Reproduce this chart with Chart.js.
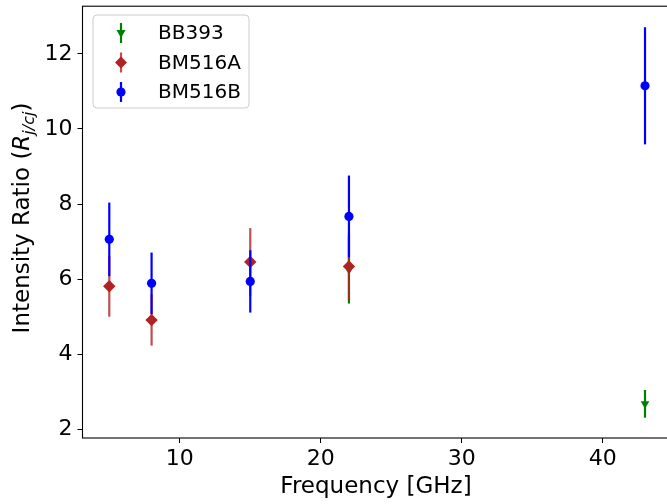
<!DOCTYPE html>
<html>
<head>
<meta charset="utf-8">
<script src="https://cdn.jsdelivr.net/npm/chart.js@4/dist/chart.umd.min.js"></script>
<style>
html, body { margin: 0; padding: 0; background: #fff; overflow: hidden; }
#wrap { width: 667px; height: 504px; overflow: hidden; }
</style>
</head>
<body>
<div id="wrap"><canvas id="chart" width="678" height="504"></canvas></div>
<script>
// values
const seriesNames = ['BB393', 'BM516A', 'BM516B'];
const bbFreq = [22, 43];
const bbRatio = [6.25, 2.68];
const bbErr = [0.9, 0.37];
const aFreq = [5, 8, 15, 22];
const aRatio = [5.81, 4.91, 6.46, 6.34];
const aErr = [0.81, 0.68, 0.9, 0.9];
const bFreq = [5, 8, 15, 22, 43];
const bRatio = [7.06, 5.89, 5.94, 7.67, 11.15];
const bErr = [0.98, 0.82, 0.83, 1.09, 1.56];
const xTicks = [10, 20, 30, 40];
const yTicks = [2, 4, 6, 8, 10, 12];

const FONT = '"DejaVu Sans", sans-serif';

const toPoints = (xs, ys) => xs.map((x, i) => ({ x: x, y: ys[i] }));

// no extra room for edge labels, the plot box is fixed
function noPadding(s) {
    s.paddingTop = 0; s.paddingBottom = 0; s.paddingLeft = 0; s.paddingRight = 0;
}

// error bars go under each series' own markers, like matplotlib
const errorBars = {
    id: 'errorBars',
    beforeDatasetDraw(chart, args) {
        const ds = chart.data.datasets[args.index];
        const yScale = chart.scales.y;
        const ctx = chart.ctx;
        ctx.save();
        ctx.strokeStyle = ds.errColor;
        ctx.lineWidth = 2.2;
        args.meta.data.forEach((pt, i) => {
            const v = ds.data[i].y, e = ds.errors[i];
            ctx.beginPath();
            ctx.moveTo(pt.x, yScale.getPixelForValue(v + e));
            ctx.lineTo(pt.x, yScale.getPixelForValue(v - e));
            ctx.stroke();
        });
        ctx.restore();
    }
};

function drawMarker(ctx, style, color, x, y) {
    ctx.fillStyle = color;
    ctx.beginPath();
    if (style === 'circle') {
        ctx.arc(x, y, 4.6, 0, Math.PI * 2);
    } else if (style === 'rectRot') {
        ctx.moveTo(x - 6, y); ctx.lineTo(x, y - 6); ctx.lineTo(x + 6, y); ctx.lineTo(x, y + 6);
    } else {
        ctx.moveTo(x - 4.5, y - 3); ctx.lineTo(x + 4.5, y - 3); ctx.lineTo(x, y + 5);
    }
    ctx.closePath();
    ctx.fill();
}

const decorations = {
    id: 'decorations',
    afterDraw(chart) {
        const ctx = chart.ctx;
        const a = chart.chartArea;
        ctx.save();
        // frame
        ctx.strokeStyle = '#000';
        ctx.lineWidth = 1.1;
        ctx.strokeRect(a.left, a.top, a.right - a.left, a.bottom - a.top);

        // axis titles
        ctx.fillStyle = '#000';
        ctx.font = '23px ' + FONT;
        ctx.textAlign = 'center';
        ctx.textBaseline = 'middle';
        ctx.fillText('Frequency [GHz]', 376, 487);

        ctx.save();
        ctx.translate(21, 218);
        ctx.rotate(-Math.PI / 2);
        ctx.textAlign = 'left';
        ctx.textBaseline = 'alphabetic';
        const parts = [
            { t: 'Intensity Ratio (', f: '23px ' + FONT, dy: 0 },
            { t: 'R', f: 'italic 23px ' + FONT, dy: 0 },
            { t: 'j/cj', f: 'italic 16px ' + FONT, dy: 5 },
            { t: ')', f: '23px ' + FONT, dy: 0 }
        ];
        let total = 0;
        parts.forEach(p => { ctx.font = p.f; p.w = ctx.measureText(p.t).width; total += p.w; });
        let cx = -total / 2;
        parts.forEach(p => { ctx.font = p.f; ctx.fillText(p.t, cx, 8 + p.dy); cx += p.w; });
        ctx.restore();

        // legend
        const lx = 93, ly = 15, lw = 156, lh = 93;
        ctx.beginPath();
        ctx.roundRect(lx, ly, lw, lh, 4);
        ctx.fillStyle = 'rgba(255,255,255,0.8)';
        ctx.fill();
        ctx.strokeStyle = '#cccccc';
        ctx.lineWidth = 1;
        ctx.stroke();
        chart.data.datasets.forEach((ds, i) => {
            const y = 33 + i * 29.5;
            ctx.strokeStyle = ds.errColor;
            ctx.lineWidth = 2.2;
            ctx.beginPath();
            ctx.moveTo(121, y - 10); ctx.lineTo(121, y + 10);
            ctx.stroke();
            drawMarker(ctx, ds.pointStyle, ds.backgroundColor, 121, y);
            ctx.fillStyle = '#000';
            ctx.font = '20px ' + FONT;
            ctx.textAlign = 'left';
            ctx.textBaseline = 'middle';
            ctx.fillText(ds.label, 158, y + 1);
        });
        ctx.restore();
    }
};

new Chart(document.getElementById('chart'), {
    type: 'scatter',
    data: {
        datasets: [
            {
                label: seriesNames[0], data: toPoints(bbFreq, bbRatio), errors: bbErr,
                backgroundColor: '#008000', borderColor: '#008000', errColor: '#008000',
                pointStyle: 'triangle', rotation: 180, pointRadius: 5, borderWidth: 0, order: 3
            },
            {
                label: seriesNames[1], data: toPoints(aFreq, aRatio), errors: aErr,
                backgroundColor: '#b22222', borderColor: '#b22222', errColor: 'rgba(178,34,34,0.8)',
                pointStyle: 'rectRot', pointRadius: 6.2, borderWidth: 0, order: 2
            },
            {
                label: seriesNames[2], data: toPoints(bFreq, bRatio), errors: bErr,
                backgroundColor: '#0000ff', borderColor: '#0000ff', errColor: '#0000ff',
                pointStyle: 'circle', pointRadius: 4.6, borderWidth: 0, order: 1
            }
        ]
    },
    options: {
        responsive: false,
        animation: false,
        events: [],
        layout: { padding: { left: 0, top: 5, right: 1, bottom: 0 } },
        plugins: { legend: { display: false }, tooltip: { enabled: false } },
        scales: {
            x: {
                type: 'linear', min: 3.1, max: 44.9,
                afterBuildTicks: s => { s.ticks = xTicks.map(v => ({ value: v })); },
                afterFit: s => { s.height = 66; noPadding(s); },
                grid: { drawOnChartArea: false, tickLength: 5, tickColor: '#000', tickWidth: 1 },
                border: { display: false },
                ticks: { font: { family: FONT, size: 22 }, color: '#000', padding: 3, maxRotation: 0, autoSkip: false }
            },
            y: {
                type: 'linear', min: 1.77, max: 13.27,
                afterBuildTicks: s => { s.ticks = yTicks.map(v => ({ value: v })); },
                afterFit: s => { s.width = 82.5; noPadding(s); },
                grid: { drawOnChartArea: false, tickLength: 5, tickColor: '#000', tickWidth: 1 },
                border: { display: false },
                ticks: { font: { family: FONT, size: 22 }, color: '#000', padding: 5, autoSkip: false }
            }
        }
    },
    plugins: [errorBars, decorations]
});
</script>
</body>
</html>
